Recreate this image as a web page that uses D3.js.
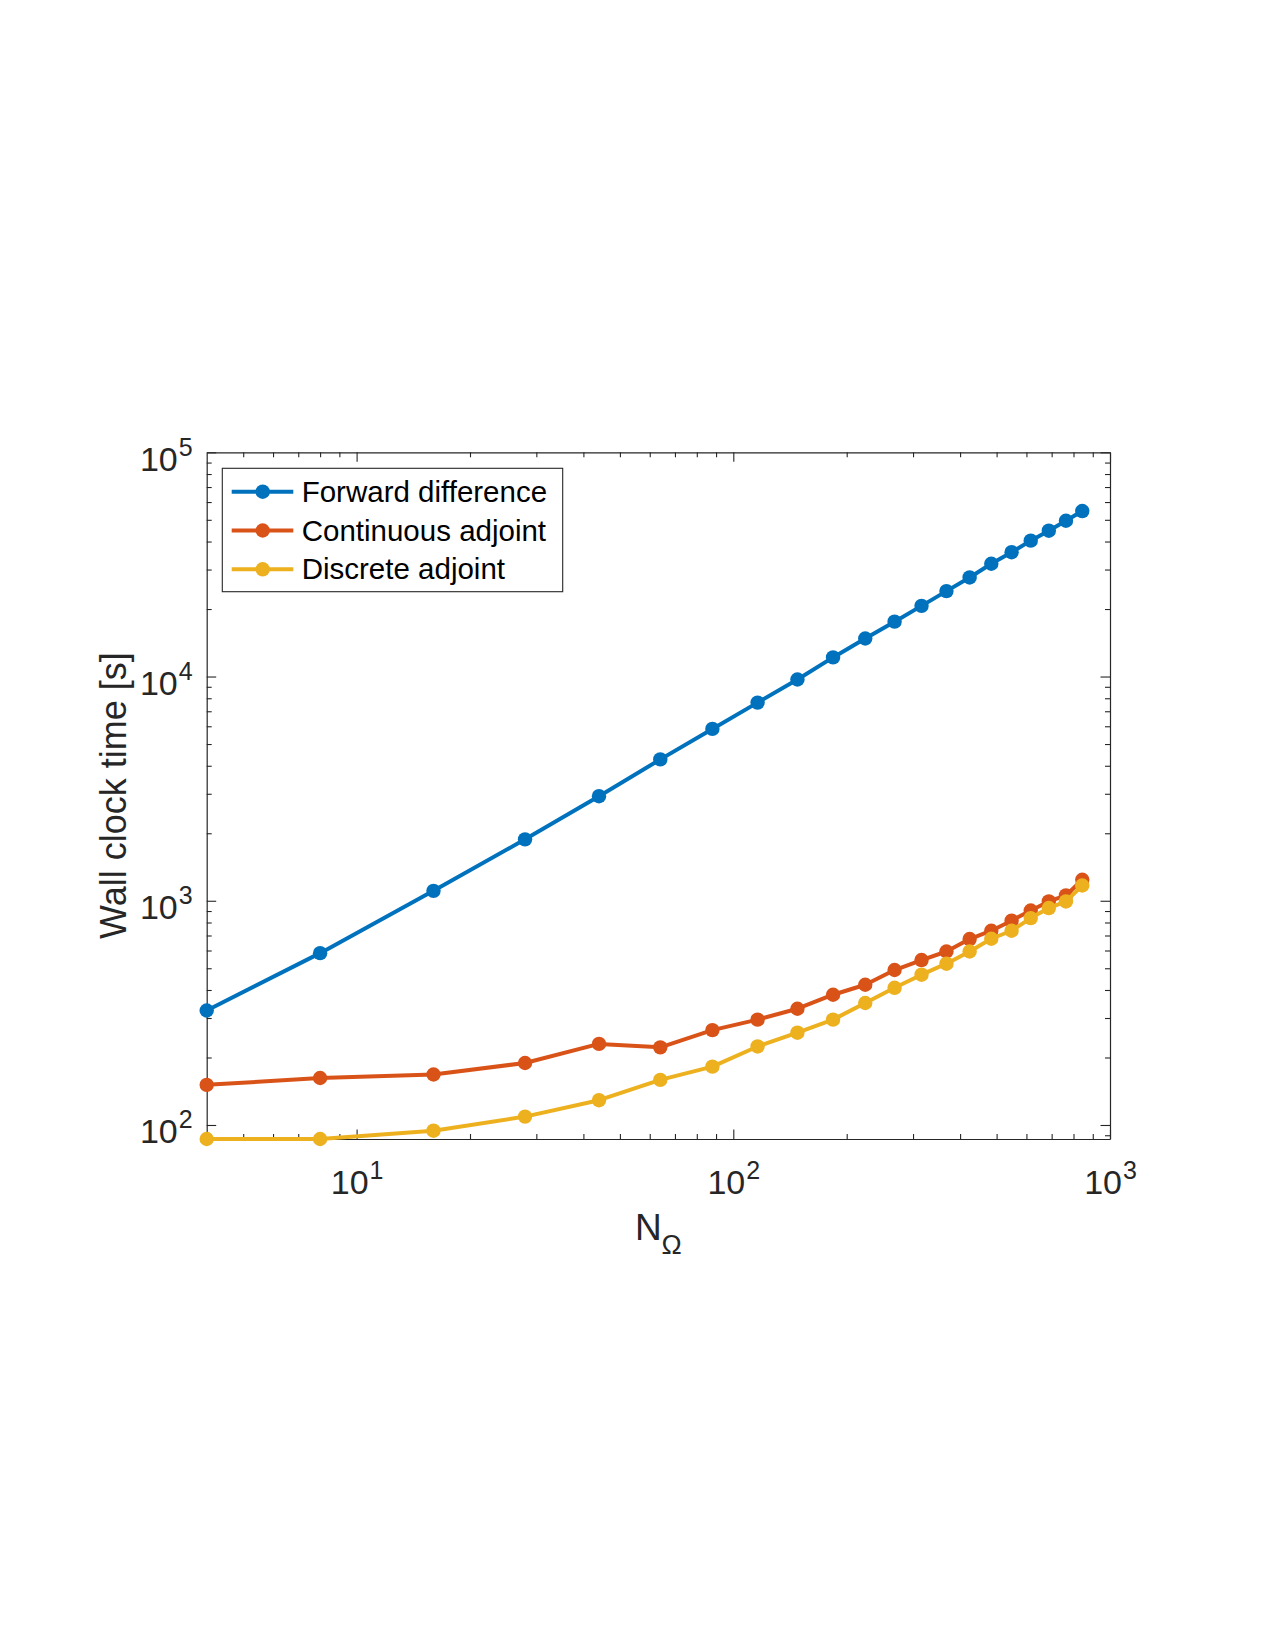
<!DOCTYPE html>
<html>
<head>
<meta charset="utf-8">
<script src="https://cdn.jsdelivr.net/npm/d3@7/dist/d3.min.js"></script>
<style>
    body { margin: 0; background: #fff; }
    svg { display: block; }
</style>
</head>
<body>
<div id="chart"></div>
<script>
// values
var nOmega = [4, 8, 16, 28, 44, 64, 88, 116, 148, 184, 224, 268, 316, 368, 424, 484, 548, 616, 688, 764, 844];
var forwardDiff = [324, 584, 1107, 1879, 2926, 4270, 5840, 7650, 9700, 12170, 14780, 17570, 20660, 24040, 27660, 31830, 35850, 40360, 44700, 49500, 54700];
var contAdjoint = [151, 162, 168, 189, 230, 222, 265, 295, 330, 381, 422, 491, 544, 594, 675, 735, 815, 905, 993, 1056, 1241];
var discAdjoint = [86.6, 86.6, 94.3, 109, 129, 159, 182, 224, 258, 295, 350, 409, 468, 524, 594, 677, 735, 837, 928, 993, 1170];
var seriesNames = ['Forward difference', 'Continuous adjoint', 'Discrete adjoint'];

var xMajorTicks = [10, 100, 1000];
var xMinorTicks = [5, 6, 7, 8, 9, 20, 30, 40, 50, 60, 70, 80, 90, 200, 300, 400, 500, 600, 700, 800, 900];
var yMajorTicks = [100, 1000, 10000, 100000];
var yMinorTicks = [90, 200, 300, 400, 500, 600, 700, 800, 900, 2000, 3000, 4000, 5000, 6000, 7000, 8000, 9000,
                   20000, 30000, 40000, 50000, 60000, 70000, 80000, 90000];

var colors = ['#0072BD', '#D95319', '#EDB120'];
var axisColor = '#262626';
var font = '"Liberation Sans", Arial, Helvetica, sans-serif';

var W = 1275, H = 1650;
var pLeft = 206.7, pRight = 1110, pTop = 452.3, pBottom = 1139;

var svg = d3.select('#chart').append('svg')
    .attr('width', W)
    .attr('height', H)
    .style('background', '#fff');

var x = d3.scaleLog().domain([4, 1000]).range([pLeft, pRight]);
var y = d3.scaleLog().domain([d3.min(discAdjoint), 100000]).range([pBottom, pTop]);

function styleAxis(g) {
    g.select('.domain').attr('stroke', axisColor).attr('stroke-width', 1.2);
    g.selectAll('.tick line').attr('stroke', axisColor).attr('stroke-width', 1.1);
}

// power-of-ten labels with superscript exponent
function powLabel(sel, d) {
    var e = Math.round(Math.log10(d));
    sel.text(null);
    sel.append('tspan').text('10');
    sel.append('tspan').attr('font-size', 25).attr('dx', 1).attr('dy', -15).text(e);
}

// bottom / top
var gxB = svg.append('g').attr('transform', 'translate(0,' + pBottom + ')')
    .call(d3.axisBottom(x).tickValues(xMajorTicks).tickSize(-9.5).tickSizeOuter(0));
gxB.selectAll('.tick text')
    .attr('y', 55).attr('dy', 0)
    .attr('font-family', font).attr('font-size', 34).attr('fill', axisColor)
    .each(function (d) { powLabel(d3.select(this), d); });
styleAxis(gxB);

var gxBm = svg.append('g').attr('transform', 'translate(0,' + pBottom + ')')
    .call(d3.axisBottom(x).tickValues(xMinorTicks).tickSize(-5).tickFormat(''));
gxBm.select('.domain').remove();
styleAxis(gxBm);

var gxT = svg.append('g').attr('transform', 'translate(0,' + pTop + ')')
    .call(d3.axisTop(x).tickValues(xMajorTicks).tickSize(-9.5).tickSizeOuter(0).tickFormat(''));
styleAxis(gxT);
var gxTm = svg.append('g').attr('transform', 'translate(0,' + pTop + ')')
    .call(d3.axisTop(x).tickValues(xMinorTicks).tickSize(-5).tickFormat(''));
gxTm.select('.domain').remove();
styleAxis(gxTm);

// left / right
var gyL = svg.append('g').attr('transform', 'translate(' + pLeft + ',0)')
    .call(d3.axisLeft(y).tickValues(yMajorTicks).tickSize(-9.5).tickSizeOuter(0));
gyL.selectAll('.tick text')
    .attr('x', -14).attr('dy', 0).attr('y', 18)
    .attr('text-anchor', 'end')
    .attr('font-family', font).attr('font-size', 34).attr('fill', axisColor)
    .each(function (d) { powLabel(d3.select(this), d); });
styleAxis(gyL);

var gyLm = svg.append('g').attr('transform', 'translate(' + pLeft + ',0)')
    .call(d3.axisLeft(y).tickValues(yMinorTicks).tickSize(-5).tickFormat(''));
gyLm.select('.domain').remove();
styleAxis(gyLm);

var gyR = svg.append('g').attr('transform', 'translate(' + pRight + ',0)')
    .call(d3.axisRight(y).tickValues(yMajorTicks).tickSize(-9.5).tickSizeOuter(0).tickFormat(''));
styleAxis(gyR);
var gyRm = svg.append('g').attr('transform', 'translate(' + pRight + ',0)')
    .call(d3.axisRight(y).tickValues(yMinorTicks).tickSize(-5).tickFormat(''));
gyRm.select('.domain').remove();
styleAxis(gyRm);

// axis labels
var xl = svg.append('text')
    .attr('x', (pLeft + pRight) / 2)
    .attr('y', 1240)
    .attr('text-anchor', 'middle')
    .attr('font-family', font)
    .attr('font-size', 37)
    .attr('fill', axisColor);
xl.append('tspan').text('N');
xl.append('tspan').attr('font-size', 27).attr('dy', 14).text('Ω');

svg.append('text')
    .attr('transform', 'translate(126,' + (pTop + pBottom) / 2 + ') rotate(-90)')
    .attr('text-anchor', 'middle')
    .attr('font-family', font)
    .attr('font-size', 36)
    .attr('fill', axisColor)
    .text('Wall clock time [s]');

// series
var allSeries = [forwardDiff, contAdjoint, discAdjoint];
var line = d3.line()
    .x(function (d) { return x(d[0]); })
    .y(function (d) { return y(d[1]); });

allSeries.forEach(function (vals, k) {
    var pts = nOmega.map(function (n, i) { return [n, vals[i]]; });
    var g = svg.append('g');
    g.append('path')
        .datum(pts)
        .attr('d', line)
        .attr('fill', 'none')
        .attr('stroke', colors[k])
        .attr('stroke-width', 4)
        .attr('stroke-linejoin', 'round');
    g.selectAll('circle')
        .data(pts)
        .enter()
        .append('circle')
        .attr('cx', function (d) { return x(d[0]); })
        .attr('cy', function (d) { return y(d[1]); })
        .attr('r', 7.2)
        .attr('fill', colors[k]);
});

// legend
var lg = svg.append('g');
lg.append('rect')
    .attr('x', 222.3).attr('y', 468.3)
    .attr('width', 340.4).attr('height', 123.4)
    .attr('fill', '#fff')
    .attr('stroke', axisColor)
    .attr('stroke-width', 1.1);

seriesNames.forEach(function (name, k) {
    var cy = 491.7 + k * 38.8;
    lg.append('line')
        .attr('x1', 231.7).attr('x2', 293.3)
        .attr('y1', cy).attr('y2', cy)
        .attr('stroke', colors[k])
        .attr('stroke-width', 4);
    lg.append('circle')
        .attr('cx', 262.7).attr('cy', cy)
        .attr('r', 7.2)
        .attr('fill', colors[k]);
    lg.append('text')
        .attr('x', 301.7).attr('y', cy + 10)
        .attr('font-family', font)
        .attr('font-size', 29.5)
        .attr('fill', '#000')
        .text(name);
});
</script>
</body>
</html>
